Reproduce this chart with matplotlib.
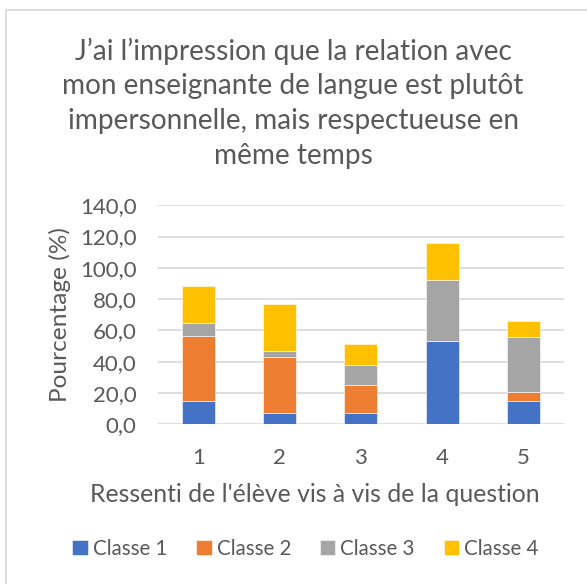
import matplotlib
matplotlib.use('Agg')
from matplotlib import pyplot as plt
from matplotlib.patches import Rectangle
import numpy as np

# donnees
categories = ['1', '2', '3', '4', '5']
classe_1 = [15.1, 7.5, 7.5, 53.5, 15.1]
classe_2 = [41.2, 35.3, 17.4, 0.0, 5.8]
classe_3 = [8.5, 4.1, 13.2, 39.0, 34.7]
classe_4 = [23.4, 30.0, 13.3, 23.6, 10.2]
noms = ['Classe 1', 'Classe 2', 'Classe 3', 'Classe 4']
couleurs = ['#4472C4', '#ED7D31', '#A5A5A5', '#FFC000']
yticks = [0, 20, 40, 60, 80, 100, 120, 140]

plt.rcParams['font.family'] = ['Lato', 'DejaVu Sans']
gris = '#595959'

W, H = 587, 584
fig = plt.figure(figsize=(W/100, H/100), dpi=100)
# bordure de la zone de graphique (seuls les bords gauche et haut sont visibles)
fig.patches.append(Rectangle((6/W, -0.1), 1.2, 1.1 - 10/H, transform=fig.transFigure,
                             fill=False, edgecolor='#d9d9d9', lw=1.2))

ax = fig.add_axes([157.5/W, 1 - 424.3/H, (564 - 157.5)/W, (424.3 - 205.3)/H])

x = np.arange(len(categories))
bas = np.zeros(len(categories))
for serie, nom, c in zip([classe_1, classe_2, classe_3, classe_4], noms, couleurs):
    ax.bar(x, serie, 0.406, bottom=bas, color=c, label=nom, zorder=3,
           edgecolor='white', linewidth=0.4)
    bas += np.array(serie)

ax.set_xlim(-0.5, len(categories) - 0.5)
ax.set_ylim(0, 140)
ax.set_yticks(yticks)
ax.set_yticklabels([f'{v:.1f}'.replace('.', ',') for v in yticks])
ax.set_xticks(x)
ax.set_xticklabels(categories)
ax.yaxis.grid(True, color='#d9d9d9', lw=1.2, zorder=0)
for s in ax.spines.values():
    s.set_visible(False)
ax.tick_params(length=0, labelsize=16, colors=gris)
ax.tick_params(axis='y', pad=15)
ax.tick_params(axis='x', pad=17)

# titres des axes
fig.text(314.5/W, 1 - 494/H, "Ressenti de l'élève vis à vis de la question",
         ha='center', va='center', fontsize=17.8, color=gris)
fig.text(60/W, 1 - 315/H, 'Pourcentage (%)', rotation=90, ha='center', va='center',
         fontsize=17.6, color=gris)

fig.text(293/W, 1 - 103/H, "J’ai l’impression que la relation avec\nmon enseignante de langue est plutôt\n"
         "impersonnelle, mais respectueuse en\nmême temps", ha='center', va='center',
         fontsize=20.2, color=gris, linespacing=1.41)

fig.legend(loc='center', bbox_to_anchor=(305.5/W, 1 - 549/H), ncol=4, frameon=False,
           fontsize=14.8, labelcolor=gris, handlelength=0.75, handleheight=0.75,
           handletextpad=0.25, columnspacing=1.4)

plt.savefig('out.png', dpi=100)
